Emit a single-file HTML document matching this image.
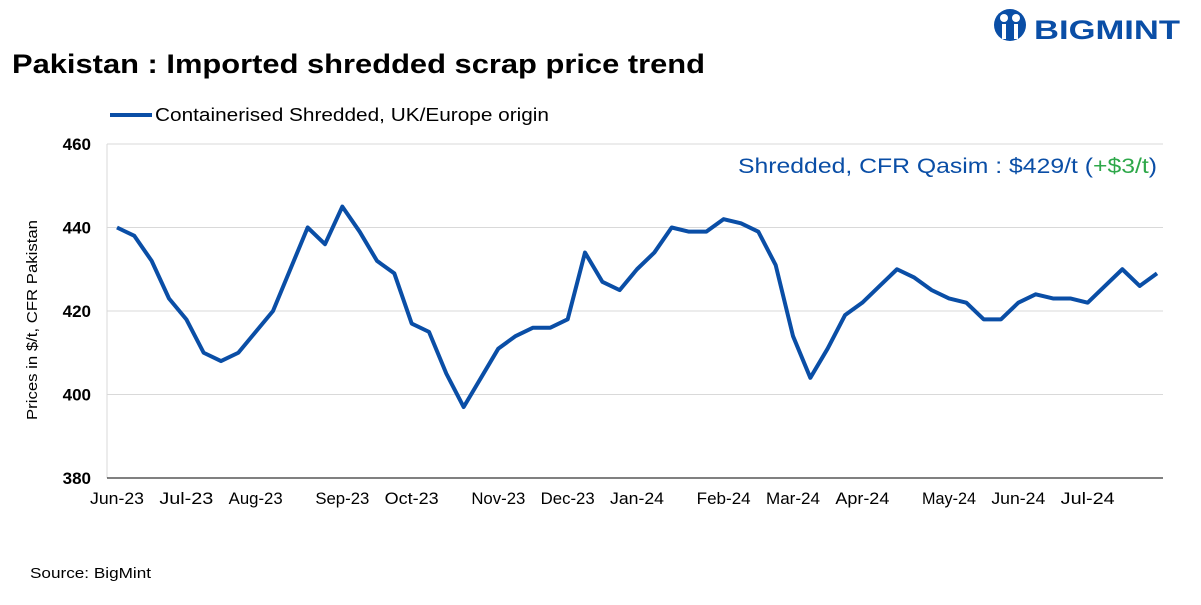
<!DOCTYPE html>
<html><head><meta charset="utf-8">
<style>
body{margin:0;width:1201px;height:600px;background:#fff;font-family:"Liberation Sans",sans-serif;overflow:hidden}
</style></head>
<body>
<svg id="chart" width="1201" height="600" xmlns="http://www.w3.org/2000/svg">
<g>
<circle cx="1010" cy="25" r="16" fill="#0a4ea6"/>
<circle cx="1004" cy="18" r="4" fill="#fff"/><circle cx="1016" cy="18" r="4" fill="#fff"/>
<rect x="1002" y="24" width="4" height="15" fill="#fff"/><rect x="1014" y="24" width="4" height="15" fill="#fff"/>
<text x="1034" y="39" font-size="27" font-weight="bold" fill="#0a4ea6" textLength="146" lengthAdjust="spacingAndGlyphs">BIGMINT</text>
</g>
<text x="12" y="73" font-size="27" font-weight="bold" fill="#000" textLength="693" lengthAdjust="spacingAndGlyphs">Pakistan : Imported shredded scrap price trend</text>
<line x1="110" y1="115" x2="152" y2="115" stroke="#0a4ea6" stroke-width="4"/>
<text x="155" y="121" font-size="18" fill="#000" textLength="394" lengthAdjust="spacingAndGlyphs">Containerised Shredded, UK/Europe origin</text>
<text x="738" y="173" font-size="21" fill="#0a4ea6" textLength="419" lengthAdjust="spacingAndGlyphs">Shredded, CFR Qasim : $429/t (<tspan fill="#2ea84a">+$3/t</tspan>)</text>
<text transform="translate(37,320) rotate(-90)" font-size="15" text-anchor="middle" fill="#000" textLength="200" lengthAdjust="spacingAndGlyphs">Prices in $/t, CFR Pakistan</text>
<text x="30" y="578" font-size="15" fill="#000" textLength="121" lengthAdjust="spacingAndGlyphs">Source: BigMint</text>
<g id="grid"></g><g id="axes"></g><g id="series"></g>
</svg>
<script>
const values=[440,438,432,423,418,410,408,410,415,420,430,440,436,445,439,432,429,417,415,405,397,404,411,414,416,416,418,434,427,425,430,434,440,439,439,442,441,439,431,414,404,411,419,422,426,430,428,425,423,422,418,418,422,424,423,423,422,426,430,426,429];
const monthLabels=["Jun-23","Jul-23","Aug-23","Sep-23","Oct-23","Nov-23","Dec-23","Jan-24","Feb-24","Mar-24","Apr-24","May-24","Jun-24","Jul-24"];
const monthIdx=[0,4,8,13,17,22,26,30,35,39,43,48,52,56];
const yTicks=[380,400,420,440,460];
const NS="http://www.w3.org/2000/svg";
const X0=117,X1=1157,PL=107,PR=1163,YT=144,YB=478,YMIN=380,YMAX=460;
const xs=i=>X0+(X1-X0)*i/(values.length-1);
const ys=v=>YB-(v-YMIN)/(YMAX-YMIN)*(YB-YT);
function mk(t,a,p){const e=document.createElementNS(NS,t);for(const k in a)e.setAttribute(k,a[k]);p.appendChild(e);return e;}
const grid=document.getElementById('grid'),axes=document.getElementById('axes'),ser=document.getElementById('series');
yTicks.forEach(v=>{
 if(v>YMIN){const l=mk('line',{x1:PL,x2:PR,y1:ys(v),y2:ys(v),stroke:'#d9d9d9','stroke-width':1},grid);
 
 }
 const t=mk('text',{x:91,y:ys(v)+6,'font-size':17,'font-weight':'bold','text-anchor':'end',fill:'#000'},axes);t.textContent=v;
 
 
});
const yl=mk('line',{x1:PL,x2:PL,y1:YT,y2:YB,stroke:'#d9d9d9'},axes);


const xl=mk('line',{x1:PL,x2:PR,y1:YB,y2:YB,stroke:'#000'},axes);


monthLabels.forEach((m,k)=>{
 const t=mk('text',{x:xs(monthIdx[k]),y:504,'font-size':17,'text-anchor':'middle',fill:'#000',textLength:54,lengthAdjust:'spacingAndGlyphs'},axes);t.textContent=m;
 
 
});
const p=mk('polyline',{points:values.map((v,i)=>xs(i)+','+ys(v)).join(' '),fill:'none',stroke:'#0a4ea6','stroke-width':4,'stroke-linejoin':'round'},ser);


</script>
</body></html>
